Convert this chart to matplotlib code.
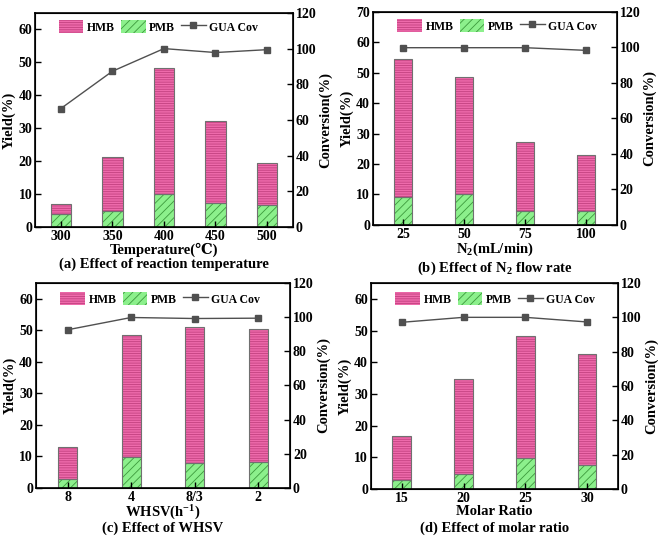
import numpy as np
import matplotlib.pyplot as plt

plt.rcParams['font.family'] = ['Liberation Serif', 'DejaVu Serif']
plt.rcParams['font.weight'] = 'bold'
plt.rcParams['mathtext.default'] = 'regular'
plt.rcParams['hatch.linewidth'] = 0.6

# (a) temperature
temp_labels = ['300', '350', '400', '450', '500']
temp_pmb = [4.0, 4.8, 10.0, 7.3, 6.6]
temp_total = [7.1, 21.3, 48.4, 32.2, 19.4]
temp_cov = [66.4, 87.3, 100.0, 97.8, 99.4]

# (b) N2 flow rate
flow_labels = ['25', '50', '75', '100']
flow_pmb = [9.3, 10.0, 4.7, 4.5]
flow_total = [54.4, 48.5, 27.1, 22.8]
flow_cov = [99.8, 99.8, 99.8, 98.3]

# (c) WHSV
whsv_labels = ['8', '4', '8/3', '2']
whsv_pmb = [2.8, 9.8, 8.0, 8.2]
whsv_total = [12.9, 48.4, 50.9, 50.4]
whsv_cov = [92.6, 99.8, 99.2, 99.4]

# (d) molar ratio
ratio_labels = ['15', '20', '25', '30']
ratio_pmb = [2.8, 4.7, 9.9, 7.6]
ratio_total = [16.7, 34.7, 48.4, 42.7]
ratio_cov = [97.1, 100.0, 100.0, 97.3]

PINK = '#ee6aab'
PINK_H = '#c2407f'
GREEN = '#8cf08c'
GREEN_H = '#3c9a3c'
EDGE = '#707070'
LINE = '#505050'


def panel(rect, labels, pmb, total, cov, ylim, yticks, width, xlabel, caption,
          cap_y, leg_anchor):
    ax = fig.add_axes(rect)
    x = np.arange(len(labels))
    hmb = np.array(total) - np.array(pmb)
    ax.bar(x, pmb, width, color=GREEN, edgecolor=GREEN_H, linewidth=0, hatch='////')
    ax.bar(x, hmb, width, bottom=pmb, color=PINK, edgecolor=PINK_H, linewidth=0, hatch='-------')
    ax.bar(x, pmb, width, fill=False, edgecolor=EDGE, linewidth=0.8)
    ax.bar(x, hmb, width, bottom=pmb, fill=False, edgecolor=EDGE, linewidth=0.8)
    ax.set_xlim(-0.5, len(labels) - 0.5)
    ax.set_ylim(*ylim)
    ax.set_yticks(yticks)
    ax.set_xticks(x)
    ax.set_xticklabels(labels)
    ax.tick_params(direction='in', labelsize=10, width=1, length=4, pad=2)
    ax.set_ylabel('Yield(%)', fontsize=10.5, fontweight='bold', labelpad=2)
    ax.set_xlabel(xlabel, fontsize=10.5, fontweight='bold', labelpad=0)
    for s in ax.spines.values():
        s.set_linewidth(1.2)

    ax2 = ax.twinx()
    ax2.plot(x, cov, color=LINE, marker='s', markersize=4.5, linewidth=1)
    ax2.set_ylim(0, 120)
    ax2.set_yticks(np.arange(0, 121, 20))
    ax2.tick_params(direction='in', labelsize=10, width=1, length=4, pad=2)
    ax2.set_ylabel('Conversion(%)', fontsize=10.5, fontweight='bold', labelpad=2)

    h1 = plt.Rectangle((0, 0), 1, 1, facecolor=PINK, edgecolor=PINK_H, hatch='-------', linewidth=0)
    h2 = plt.Rectangle((0, 0), 1, 1, facecolor=GREEN, edgecolor=GREEN_H, hatch='////', linewidth=0)
    ln, = ax2.plot([], [], color=LINE, marker='s', markersize=4.5, linewidth=1)
    ax2.legend([h1, h2, ln], ['HMB', 'PMB', 'GUA Cov'], loc='center left',
               bbox_to_anchor=leg_anchor, ncol=3, frameon=False, fontsize=8.5,
               handlelength=2.1, handleheight=1.3, columnspacing=0.5, handletextpad=0.3)
    fig.text(rect[0] + rect[2] / 2, cap_y, caption, ha='center', va='center',
             fontsize=10.5, fontweight='bold')


fig = plt.figure(figsize=(6.61, 5.38), dpi=100)

panel([0.053, 0.578, 0.390, 0.398], temp_labels, temp_pmb, temp_total, temp_cov,
      (0, 65), np.arange(0, 61, 10), 0.4, 'Temperature(\u2103)',
      '(a) Effect of reaction temperature', 0.509, (0.05, 0.935))
panel([0.564, 0.582, 0.369, 0.396], flow_labels, flow_pmb, flow_total, flow_cov,
      (0, 70), np.arange(0, 71, 10), 0.3, r'N$_2$(mL/min)',
      r'(b) Effect of N$_2$ flow rate', 0.502, (0.057, 0.934))
panel([0.054, 0.093, 0.385, 0.381], whsv_labels, whsv_pmb, whsv_total, whsv_cov,
      (0, 65), np.arange(0, 61, 10), 0.3, r'WHSV(h$^{-1}$)',
      '(c) Effect of WHSV', 0.018, (0.055, 0.922))
panel([0.561, 0.091, 0.374, 0.383], ratio_labels, ratio_pmb, ratio_total, ratio_cov,
      (0, 65), np.arange(0, 61, 10), 0.3, 'Molar Ratio',
      '(d) Effect of molar ratio', 0.018, (0.056, 0.922))

fig.savefig('out.png', dpi=100)
